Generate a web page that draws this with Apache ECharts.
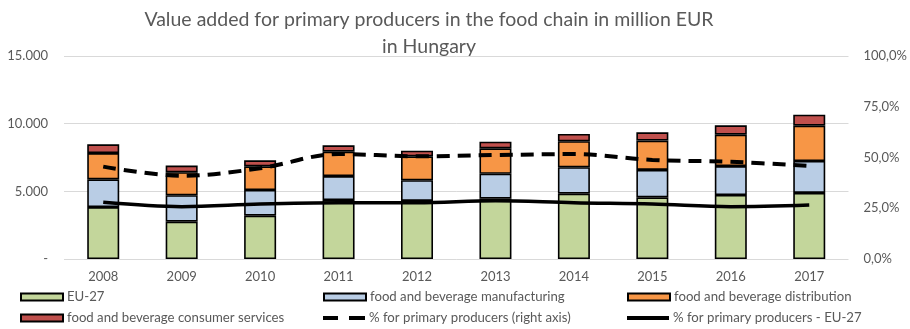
<!DOCTYPE html>
<html>
<head>
<meta charset="utf-8">
<script src="https://cdn.jsdelivr.net/npm/echarts@6/dist/echarts.min.js"></script>
<style>
  html, body { margin: 0; padding: 0; background: #fff; }
  #chart { width: 910px; height: 329px; }
</style>
</head>
<body>
<div id="chart"></div>
<script>
// Years on the category axis
const years = ['2008', '2009', '2010', '2011', '2012', '2013', '2014', '2015', '2016', '2017'];

// Stacked value added, million EUR
const eu27 = [3840, 2760, 3200, 4360, 4290, 4460, 4830, 4560, 4730, 4880];
const manufacturing = [2050, 1950, 1900, 1770, 1530, 1840, 1950, 2020, 2140, 2360];
const distribution = [1940, 1700, 1750, 1800, 1770, 1880, 1920, 2170, 2320, 2610];
const consumerServices = [645, 490, 440, 470, 410, 490, 540, 610, 690, 810];

// Shares for primary producers, percent (right axis)
const sharePrimary = [45.5, 41.0, 44.7, 51.7, 50.6, 51.2, 51.7, 48.8, 47.9, 45.8];
const sharePrimaryEU = [27.9, 25.8, 27.1, 27.7, 27.7, 28.7, 27.7, 27.1, 25.8, 26.6];

// Axis ticks
const leftTicks = [0, 5000, 10000, 15000];
const rightTicks = [0, 25, 50, 75, 100];

const names = [
  'EU-27',
  'food and beverage manufacturing',
  'food and beverage distribution',
  'food and beverage consumer services',
  '% for primary producers (right axis)',
  '% for primary producers - EU-27'
];

const FONT = 'Lato';
const GREY = '#595959';

// Legend glyphs for the two line series: a two-dash stroke and a plain stroke
const DASH_ICON = 'path://M0,0 L15,0 L15,4 L0,4 Z M26,0 L42,0 L42,4 L26,4 Z';
const SOLID_ICON = 'path://M0,0 L42,0 L42,4 L0,4 Z';

const chart = echarts.init(document.getElementById('chart'), null, { renderer: 'canvas' });

function barSeries(name, data, color) {
  return {
    name: name,
    type: 'bar',
    stack: 'total',
    data: data,
    barWidth: 32,
    itemStyle: { color: color, borderColor: '#000', borderWidth: 1.6 },
    emphasis: { disabled: true }
  };
}

function legendAt(item, left, top, extra) {
  return Object.assign({
    data: [item],
    left: left,
    top: top,
    itemWidth: 42,
    itemHeight: 7,
    itemGap: 0,
    padding: 0,
    selectedMode: false,
    textStyle: { fontFamily: FONT, fontSize: 13.2, color: GREY, lineHeight: 14, padding: [0, 0, 0, -1] }
  }, extra || {});
}

const fmtLeft = v => v === 0 ? '-' : v.toLocaleString('de-DE');
const fmtRight = v => v.toFixed(1).replace('.', ',') + '%';

const lineIconStyle = { color: '#000', borderWidth: 0 };

chart.setOption({
  animation: false,
  textStyle: { fontFamily: FONT },
  title: {
    text: 'Value added for primary producers in the food chain in million EUR\nin Hungary',
    left: 424,
    textAlign: 'center',
    top: 1,
    textStyle: { fontFamily: FONT, fontSize: 19.5, fontWeight: 'normal', color: GREY, lineHeight: 27 }
  },
  legend: [
    legendAt({ name: names[0], icon: 'rect' }, 20, 290),
    legendAt({ name: names[1], icon: 'rect' }, 323, 290),
    legendAt({ name: names[2], icon: 'rect' }, 627, 290),
    legendAt({ name: names[3], icon: 'rect' }, 20, 311),
    legendAt({ name: names[4], icon: DASH_ICON, itemStyle: lineIconStyle }, 323, 311, { itemHeight: 4 }),
    legendAt({ name: names[5], icon: SOLID_ICON, itemStyle: lineIconStyle }, 627, 311, { itemHeight: 4 })
  ],
  grid: { left: 64, right: 60, top: 56, bottom: 70 },
  xAxis: {
    type: 'category',
    data: years,
    axisLine: { show: false },
    axisTick: { show: false },
    axisLabel: { fontFamily: FONT, fontSize: 13, color: GREY, margin: 11 }
  },
  yAxis: [
    {
      type: 'value',
      min: leftTicks[0],
      max: leftTicks[leftTicks.length - 1],
      interval: leftTicks[1] - leftTicks[0],
      axisLine: { show: false },
      axisTick: { show: false },
      splitLine: { lineStyle: { color: '#d9d9d9', width: 1 } },
      axisLabel: { fontFamily: FONT, fontSize: 13, color: GREY, margin: 16, formatter: fmtLeft }
    },
    {
      type: 'value',
      min: rightTicks[0],
      max: rightTicks[rightTicks.length - 1],
      interval: rightTicks[1] - rightTicks[0],
      axisLine: { show: false },
      axisTick: { show: false },
      splitLine: { show: false },
      axisLabel: { fontFamily: FONT, fontSize: 13, color: GREY, margin: 15, formatter: fmtRight }
    }
  ],
  series: [
    barSeries(names[0], eu27, '#c3d69b'),
    barSeries(names[1], manufacturing, '#b9cde5'),
    barSeries(names[2], distribution, '#f79646'),
    barSeries(names[3], consumerServices, '#c0504d'),
    {
      name: names[4],
      type: 'line',
      yAxisIndex: 1,
      data: sharePrimary,
      symbol: 'none',
      smooth: 0.35,
      lineStyle: { color: '#000', width: 4, type: [13, 8] },
      itemStyle: { color: '#000' },
      z: 5
    },
    {
      name: names[5],
      type: 'line',
      yAxisIndex: 1,
      data: sharePrimaryEU,
      symbol: 'none',
      smooth: 0.35,
      lineStyle: { color: '#000', width: 3.5 },
      itemStyle: { color: '#000' },
      z: 5
    }
  ]
});
</script>
</body>
</html>
